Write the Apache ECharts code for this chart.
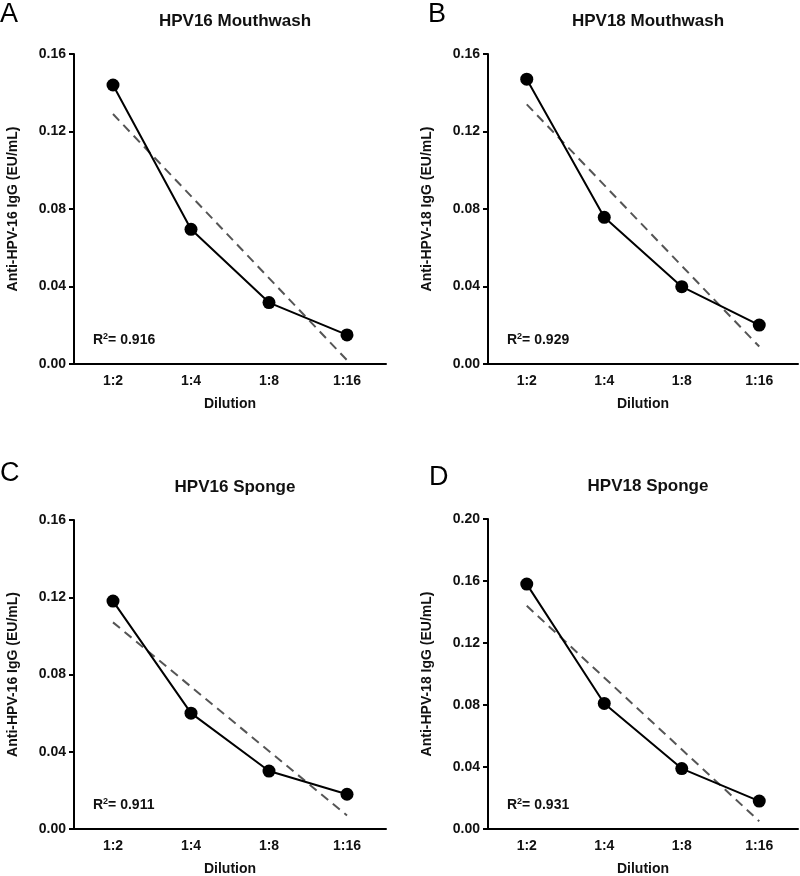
<!DOCTYPE html>
<html>
<head>
<meta charset="utf-8">
<script src="https://cdn.jsdelivr.net/npm/echarts@6/dist/echarts.min.js"></script>
<style>
  html, body { margin: 0; padding: 0; background: #fff; }
  #main { width: 800px; height: 876px; }
</style>
</head>
<body>
<div id="main"></div>
<script>
var dilutions = ['1:2', '1:4', '1:8', '1:16'];

// measured points
var hpv16Mouth = [0.144, 0.0695, 0.0317, 0.015];
var hpv18Mouth = [0.147, 0.0757, 0.0399, 0.0201];
var hpv16Sponge = [0.118, 0.060, 0.030, 0.018];
var hpv18Sponge = [0.158, 0.081, 0.039, 0.018];

// dashed fit line, value at 1:2 and at 1:16
var fit16Mouth = [0.129, 0.002];
var fit18Mouth = [0.134, 0.009];
var fit16Sponge = [0.107, 0.007];
var fit18Sponge = [0.144, 0.005];

var r2Values = ['0.916', '0.929', '0.911', '0.931'];
var panelTitles = ['HPV16 Mouthwash', 'HPV18 Mouthwash', 'HPV16 Sponge', 'HPV18 Sponge'];
var panelLetters = ['A', 'B', 'C', 'D'];
var yNames = ['Anti-HPV-16 IgG (EU/mL)', 'Anti-HPV-18 IgG (EU/mL)', 'Anti-HPV-16 IgG (EU/mL)', 'Anti-HPV-18 IgG (EU/mL)'];
var yMax = [0.16, 0.16, 0.16, 0.20];

var points = [hpv16Mouth, hpv18Mouth, hpv16Sponge, hpv18Sponge];
var fits = [fit16Mouth, fit18Mouth, fit16Sponge, fit18Sponge];

var font = 'Liberation Sans';
var grids = [
    {left: 74, top: 54, width: 312, height: 310, outerBoundsMode: 'none'},
    {left: 488, top: 54, width: 310, height: 310, outerBoundsMode: 'none'},
    {left: 74, top: 520, width: 312, height: 309, outerBoundsMode: 'none'},
    {left: 488, top: 519, width: 310, height: 310, outerBoundsMode: 'none'}
];
// letter offsets (A..D) above each grid
var letterPos = [[0, 1], [428, 1], [0, 460], [429, 464]];

var titles = [], xAxes = [], yAxes = [], series = [];

grids.forEach(function (g, i) {
    var cx = g.left + g.width / 2;
    titles.push({
        text: panelTitles[i],
        left: cx, top: g.top - 46,
        textAlign: 'center',
        textStyle: {fontFamily: font, fontSize: 17, fontWeight: 'bold', color: '#111'}
    });
    titles.push({
        text: panelLetters[i],
        left: letterPos[i][0], top: letterPos[i][1],
        padding: 0,
        textStyle: {fontFamily: font, fontSize: 27, fontWeight: 'normal', color: '#000'}
    });
    titles.push({
        text: '{r|R}{s|2}{r|= ' + r2Values[i] + '}',
        left: g.left + 14, top: g.top + g.height - 37,
        textStyle: {
            rich: {
                r: {fontFamily: font, fontSize: 14, fontWeight: 'bold', color: '#111'},
                s: {fontFamily: font, fontSize: 9, fontWeight: 'bold', color: '#111', padding: [0, 0, 7, 0]}
            }
        }
    });

    xAxes.push({
        type: 'category',
        gridIndex: i,
        data: dilutions,
        boundaryGap: true,
        name: 'Dilution',
        nameLocation: 'middle',
        nameGap: 33,
        nameTextStyle: {fontFamily: font, fontSize: 14, fontWeight: 'bold', color: '#111'},
        axisLine: {lineStyle: {color: '#000', width: 2}},
        axisTick: {alignWithLabel: true, length: 4, lineStyle: {color: '#000', width: 1.5}},
        axisLabel: {fontFamily: font, fontSize: 14, fontWeight: 'bold', color: '#111', margin: 10},
        splitLine: {show: false}
    });
    yAxes.push({
        type: 'value',
        gridIndex: i,
        min: 0,
        max: yMax[i],
        interval: 0.04,
        name: yNames[i],
        nameLocation: 'middle',
        nameGap: 54,
        nameRotate: 90,
        nameTextStyle: {fontFamily: font, fontSize: 14, fontWeight: 'bold', color: '#111'},
        axisLine: {show: true, lineStyle: {color: '#000', width: 2}},
        axisTick: {show: true, length: 5, lineStyle: {color: '#000', width: 2}},
        axisLabel: {
            fontFamily: font, fontSize: 14, fontWeight: 'bold', color: '#111', margin: 8,
            formatter: function (v) { return v.toFixed(2); }
        },
        splitLine: {show: false}
    });

    series.push({
        type: 'line',
        xAxisIndex: i,
        yAxisIndex: i,
        data: [[0, fits[i][0]], [3, fits[i][1]]],
        showSymbol: false,
        symbol: 'none',
        lineStyle: {color: '#555', width: 2, type: [9, 6]},
        z: 1,
        silent: true
    });
    series.push({
        type: 'line',
        xAxisIndex: i,
        yAxisIndex: i,
        data: points[i],
        symbol: 'circle',
        symbolSize: 13,
        itemStyle: {color: '#000'},
        lineStyle: {color: '#000', width: 2},
        z: 3
    });
});

var myChart = echarts.init(document.getElementById('main'));
myChart.setOption({
    animation: false,
    backgroundColor: '#fff',
    title: titles,
    grid: grids,
    xAxis: xAxes,
    yAxis: yAxes,
    series: series
});
</script>
</body>
</html>
